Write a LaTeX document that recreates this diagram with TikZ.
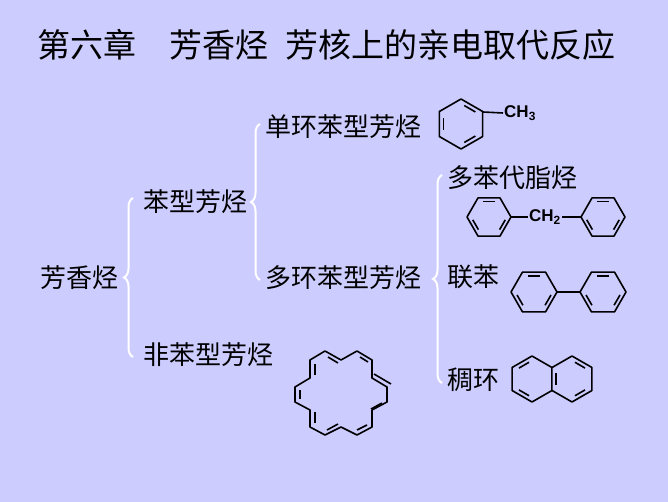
\documentclass[tikz,border=0pt]{standalone}
\usepackage{fontspec}
\setmainfont{Liberation Sans}
\newfontfamily\cjk{Noto Sans CJK SC}
\usetikzlibrary{positioning, decorations.pathreplacing}
\definecolor{mbg}{HTML}{CCCCFF}
\tikzstyle{label} = [font=\cjk\fontsize{26}{26}\selectfont, inner sep=0pt, anchor=west]
\tikzstyle{title} = [font=\cjk\fontsize{33}{33}\selectfont, inner sep=0pt, anchor=west]
\tikzstyle{grp} = [white, line width=2pt, decorate, decoration={brace, amplitude=9pt}]
\tikzstyle{bond} = [line width=1.6pt, line join=round]
\tikzstyle{chem} = [font=\bfseries\fontsize{17}{17}\selectfont, inner sep=1pt]
% hexagon with three inner lines: centre, radius, start angle
\newcommand{\ring}[4]{%
  \draw[bond] (#1,#2) +(#4:#3) -- +(#4+60:#3) -- +(#4+120:#3) -- +(#4+180:#3)
    -- +(#4+240:#3) -- +(#4+300:#3) -- cycle;
  \foreach \a in {0,120,240}
    \draw[bond] (#1,#2) +(#4+\a+10:0.75*#3) -- +(#4+\a+50:0.75*#3);}
\begin{document}
\begin{tikzpicture}[x=1pt, y=-1pt]
\fill[mbg] (0,0) rectangle (668,502);
% title
\node (t1) [title] at (37,45) {第六章};
\node (t2) [title] at (169,45) {芳香烃};
\node (t3) [title] at (285,45) {芳核上的亲电取代反应};
% tree
\node (arom) [label] at (40,278) {芳香烃};
\node (benz) [label] at (143,202) {苯型芳烃};
\node (nonb) [label] at (143,355) {非苯型芳烃};
\node (mono) [label] at (265,127) {单环苯型芳烃};
\node (poly) [label] at (265,278) {多环苯型芳烃};
\node (pfa) [label] at (447,178) {多苯代脂烃};
\node (biph) [label] at (447,277) {联苯};
\node (fused) [label] at (447,380) {稠环};
\draw[grp] (133,357) -- (133,198);
\draw[grp] (260,280) -- (260,124);
\draw[grp] (442,383) -- (442,175);
% toluene
\ring{461}{124}{25}{30}
\node (ch3) [chem, anchor=west] at (503,113) {CH\textsubscript{3}};
\draw[bond] (483,112) -- (ch3.west);
% diphenylmethane
\ring{489}{217}{22}{0}
\ring{603}{217}{22}{0}
\node (ch2) [chem] at (545,217) {CH\textsubscript{2}};
\draw[bond] (511,217) -- (ch2.west);
\draw[bond] (ch2.east) -- (581,217);
% biphenyl
\ring{534}{292}{23}{0}
\ring{603}{292}{23}{0}
\draw[bond] (557,292) -- (580,292);
% naphthalene
\draw[bond] (532,379) +(30:23) -- +(90:23) -- +(150:23) -- +(210:23) -- +(270:23) -- +(330:23) -- cycle;
\draw[bond] (572,379) +(150:23) -- +(90:23) -- +(30:23) -- +(330:23) -- +(270:23) -- +(210:23);
\draw[bond] (532,379) +(100:17) -- +(140:17);
\draw[bond] (532,379) +(220:17) -- +(260:17);
\draw[bond] (572,379) +(40:17) -- +(80:17);
\draw[bond] (572,379) +(280:17) -- +(320:17);
\draw[bond] (572,379) +(160:17) -- +(200:17);
% annulene
\draw[bond] (310,360) -- (325,351) -- (341,360) -- (357,351) -- (372,360) -- (372,378)
  -- (387,387) -- (387,402) -- (372,410) -- (372,427) -- (357,435) -- (341,427)
  -- (325,435) -- (310,427) -- (310,410) -- (295,402) -- (295,387) -- (310,378) -- cycle;
\foreach \p/\q in {{(315,364)}/{(315,375)}, {(328,357)}/{(338,363)}, {(360,357)}/{(368,362)},
  {(374,374)}/{(391,384)}, {(382,403)}/{(371,409)}, {(367,425)}/{(357,430)},
  {(338,424)}/{(327,430)}, {(315,423)}/{(315,412)}, {(300,399)}/{(300,390)}}
  \draw[bond] \p -- \q;
\end{tikzpicture}
\end{document}
